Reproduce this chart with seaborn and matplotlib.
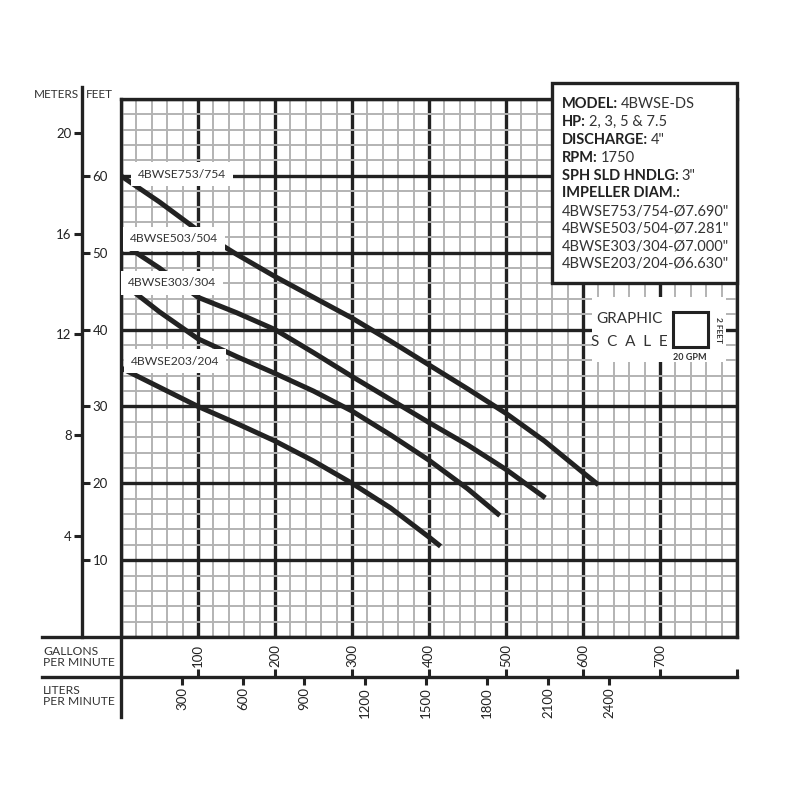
"""
4BWSE-DS pump performance curve (head vs. flow) redrawn with seaborn.
"""

import matplotlib
matplotlib.use("Agg")

import pandas as pd
import matplotlib.pyplot as plt
from matplotlib.patches import Rectangle
import seaborn as sns

# curves: flow in GPM, total head in feet
gpm_753 = [0, 50, 100, 150, 200, 250, 300, 350, 400, 450, 500, 550, 600, 620]
ft_753 = [60.0, 56.6, 52.9, 49.8, 46.9, 44.2, 41.5, 38.5, 35.4, 32.3, 29.1, 25.5, 21.4, 19.8]
gpm_503 = [0, 50, 100, 150, 200, 250, 300, 350, 400, 450, 500, 551]
ft_503 = [51.3, 48.0, 44.2, 42.2, 40.0, 37.0, 33.9, 30.9, 27.9, 25.0, 21.8, 18.1]
gpm_303 = [0, 50, 100, 150, 200, 250, 300, 350, 400, 450, 492]
ft_303 = [46.2, 42.3, 38.8, 36.5, 34.3, 32.0, 29.4, 26.3, 23.0, 19.3, 15.8]
gpm_203 = [0, 50, 100, 150, 200, 250, 300, 350, 400, 415]
ft_203 = [35.0, 32.5, 30.0, 27.8, 25.5, 22.9, 20.0, 16.8, 13.0, 11.8]
models = ["4BWSE753/754", "4BWSE503/504", "4BWSE303/304", "4BWSE203/204"]

# axis ticks
feet_ticks = [10, 20, 30, 40, 50, 60]
meter_ticks = [4, 8, 12, 16, 20]
gpm_ticks = [100, 200, 300, 400, 500, 600, 700, 800]
gpm_labels = ["100", "200", "300", "400", "500", "600", "700", ""]
lpm_ticks = [300, 600, 900, 1200, 1500, 1800, 2100, 2400]

# spec box
spec_keys = ["MODEL:", "HP:", "DISCHARGE:", "RPM:", "SPH SLD HNDLG:", "IMPELLER DIAM.:"]
spec_vals = ["4BWSE-DS", "2, 3, 5 & 7.5", '4"', "1750", '3"', ""]
impellers = ['4BWSE753/754-Ø7.690"', '4BWSE503/504-Ø7.281"',
             '4BWSE303/304-Ø7.000"', '4BWSE203/204-Ø6.630"']

INK = "#222222"
TXT = "#333333"
FT_PER_M = 3.28084
LPM_PER_GPM = 3.78541


def fx(px):
    return px / 800


def fy(py):
    return 1 - py / 800


df = pd.concat([
    pd.DataFrame({"gpm": g, "ft": f, "model": m})
    for g, f, m in zip([gpm_753, gpm_503, gpm_303, gpm_203],
                       [ft_753, ft_503, ft_303, ft_203], models)
])

sns.set_style("white")
plt.rcParams["font.family"] = ["Lato", "DejaVu Sans"]

fig = plt.figure(figsize=(8, 8), dpi=100)
ax = fig.add_axes([fx(121), fy(637), 616 / 800, 538 / 800])

sns.lineplot(data=df, x="gpm", y="ft", hue="model", units="model", estimator=None,
             palette={m: INK for m in models}, linewidth=3.6, legend=False,
             sort=False, ax=ax, zorder=3, solid_capstyle="butt")

ax.set_xlim(0, 800)
ax.set_ylim(0, 70)
ax.set_xticks(range(0, 801, 100))
ax.set_xticks(range(0, 801, 20), minor=True)
ax.set_yticks(range(0, 71, 10))
ax.set_yticks(range(0, 71, 2), minor=True)
ax.tick_params(which="both", length=0, labelbottom=False, labelleft=False)
ax.grid(which="minor", color="#b3b3b3", linewidth=1.4)
ax.grid(which="major", color=INK, linewidth=2.4)
ax.set_axisbelow(True)
ax.set_xlabel("")
ax.set_ylabel("")
for s in ax.spines.values():
    s.set_color(INK)
    s.set_linewidth(2.4)
ax.spines["bottom"].set_bounds(-102.6, 800)
ax.spines["left"].set_bounds(-10.4, 70)

# curve labels on white patches
label_pos = [(22, 60.2), (11.7, 51.8), (9, 46.1), (13, 35.9)]
for m, (x, y) in zip(models, label_pos):
    ax.text(x, y, m, ha="left", va="center", fontsize=8.7, color=TXT, zorder=4,
            bbox=dict(boxstyle="square,pad=0.55", fc="white", ec="none"))

# feet / meters axis
yloc = (82 - 121) / 616
sec_ft = ax.secondary_yaxis(yloc)
sec_ft.set_alignment("right")
sec_ft.set_yticks(feet_ticks)
sec_ft.tick_params(direction="out", length=6, width=2.2, labelsize=9.5,
                   pad=1.5, colors=INK)
sec_ft.spines["right"].set_linewidth(2.4)
sec_ft.spines["right"].set_color(INK)
sec_ft.spines["right"].set_bounds(0, 71.5)

sec_m = ax.secondary_yaxis(yloc, functions=(lambda f: f / FT_PER_M, lambda m: m * FT_PER_M))
sec_m.set_yticks(meter_ticks)
sec_m.tick_params(direction="out", length=6, width=2.2, labelsize=9.5,
                  pad=1.5, colors=INK)
sec_m.spines["left"].set_visible(False)

fig.text(fx(79), fy(95), "METERS", ha="right", va="center", fontsize=8.5, color=TXT)
fig.text(fx(86), fy(95), "FEET", ha="left", va="center", fontsize=8.5, color=TXT)

# flow axes (GPM above the line, LPM below)
xloc = (637 - 677) / 538
sec_gpm = ax.secondary_xaxis(xloc)
sec_gpm.set_alignment("top")
sec_gpm.set_xticks(gpm_ticks, labels=gpm_labels)
sec_gpm.tick_params(direction="out", length=6, width=2.2, labelsize=9.5,
                    pad=1.5, colors=INK, labelrotation=90)
sec_gpm.spines["top"].set_linewidth(2.4)
sec_gpm.spines["top"].set_color(INK)
sec_gpm.spines["top"].set_bounds(-102.6, 800)

sec_lpm = ax.secondary_xaxis(xloc, functions=(lambda g: g * LPM_PER_GPM,
                                              lambda l: l / LPM_PER_GPM))
sec_lpm.set_xticks(lpm_ticks)
sec_lpm.tick_params(direction="out", length=6, width=2.2, labelsize=9.5,
                    pad=1.5, colors=INK, labelrotation=90)
sec_lpm.spines["bottom"].set_visible(False)

fig.text(fx(43), fy(657), "GALLONS\nPER MINUTE", ha="left", va="center",
         fontsize=8.7, color=TXT, linespacing=1.0)
fig.text(fx(43), fy(696), "LITERS\nPER MINUTE", ha="left", va="center",
         fontsize=8.7, color=TXT, linespacing=1.0)

# spec box
fig.add_artist(Rectangle((fx(552), fy(283)), 185 / 800, 200 / 800,
                         transform=fig.transFigure, fc="white", ec=INK, lw=2.4, zorder=5))
line_y = [104, 122, 140, 158, 176, 193]
keys = [fig.text(fx(562), fy(py), key, ha="left", va="center", fontsize=10.5,
                 fontweight="bold", color=INK, zorder=6)
        for key, py in zip(spec_keys, line_y)]
fig.canvas.draw()
renderer = fig.canvas.get_renderer()
for t, val, py in zip(keys, spec_vals, line_y):
    if val:
        x_end = t.get_window_extent(renderer).x1
        fig.text(x_end / 800 + 3 / 800, fy(py), val, ha="left", va="center",
                 fontsize=10.5, color=TXT, zorder=6)
for txt, py in zip(impellers, [212, 229, 247, 264]):
    fig.text(fx(562), fy(py), txt, ha="left", va="center", fontsize=10.5,
             color=TXT, zorder=6)

# graphic scale
fig.add_artist(Rectangle((fx(592), fy(362)), 134 / 800, 65 / 800,
                         transform=fig.transFigure, fc="white", ec="none", zorder=5))
fig.add_artist(Rectangle((fx(673), fy(347)), 35 / 800, 35 / 800,
                         transform=fig.transFigure, fc="white", ec=INK, lw=2.2, zorder=6))
fig.text(fx(629), fy(319), "GRAPHIC", ha="center", va="center", fontsize=11,
         color=TXT, zorder=7)
fig.text(fx(629), fy(342), "S  C  A  L  E", ha="center", va="center", fontsize=11,
         color=TXT, zorder=7)
fig.text(fx(718), fy(330), "2 FEET", ha="center", va="center", fontsize=6,
         rotation=270, fontweight="bold", color=TXT, zorder=7)
fig.text(fx(690), fy(357), "20 GPM", ha="center", va="center", fontsize=6.5,
         fontweight="bold", color=TXT, zorder=7)

fig.savefig("out.png", dpi=100, facecolor="white")
